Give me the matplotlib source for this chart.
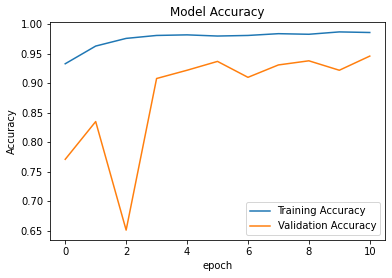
import matplotlib
matplotlib.use("Agg")
import matplotlib.pyplot as plt

epochs = list(range(11))
train_acc = [0.933, 0.963, 0.976, 0.981, 0.982, 0.980, 0.981, 0.984, 0.983, 0.987, 0.986]
val_acc = [0.771, 0.835, 0.651, 0.908, 0.922, 0.937, 0.910, 0.931, 0.938, 0.922, 0.946]

fig = plt.figure(figsize=(392/72, 278/72), dpi=72)
ax = fig.add_axes([50/392, 1-240/278, (385-50)/392, (240-22)/278])
ax.plot(epochs, train_acc, label="Training Accuracy")
ax.plot(epochs, val_acc, label="Validation Accuracy")
ax.set_title("Model Accuracy")
ax.set_xlabel("epoch")
ax.set_ylabel("Accuracy")
ax.legend(loc="lower right")
fig.savefig("out.png", dpi=72)
